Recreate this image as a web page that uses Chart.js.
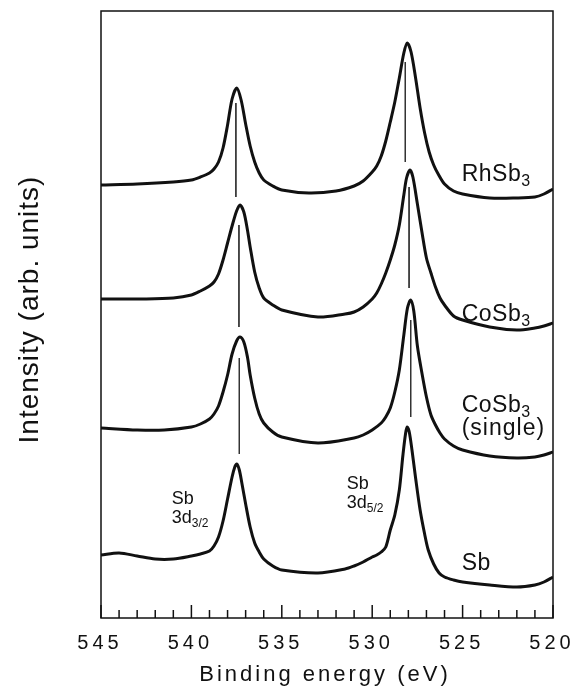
<!DOCTYPE html>
<html>
<head>
<meta charset="utf-8">
<script src="https://cdn.jsdelivr.net/npm/chart.js@4.4.1/dist/chart.umd.min.js"></script>
<style>
  body { margin: 0; background: #fff; }
</style>
</head>
<body>
<canvas id="myChart" width="586" height="697"></canvas>
<script>
// binding energy (eV), intensity (arb. units, curves stacked with offsets)
const rhSb3 = [
  [545, 433], [543, 434], [541, 436], [540, 438],
  [539.5, 441], [539, 445], [538.75, 449], [538.5, 456], [538.25, 470],
  [538, 493], [537.75, 519], [537.49, 530], [537.25, 518], [537, 494],
  [536.75, 472], [536.5, 456], [536.25, 445], [536, 438], [535.5, 432],
  [535, 428], [533.5, 425], [532, 427], [531, 432],
  [530.5, 437], [530, 446], [529.75, 452], [529.5, 462], [529.25, 477],
  [529, 496], [528.75, 516], [528.5, 540], [528.25, 565], [528.06, 575],
  [527.85, 566], [527.6, 540], [527.35, 510], [527.1, 485], [526.85, 466],
  [526.6, 453], [526.35, 444], [526, 434], [525.5, 427], [525, 424],
  [523.5, 420], [522, 420], [521, 421], [520.5, 424], [520, 429],
];
const coSb3 = [
  [545, 319], [542.5, 319], [541, 320], [540, 323],
  [539.5, 327], [539, 332], [538.75, 336], [538.5, 344], [538.25, 358],
  [538, 375], [537.75, 392], [537.5, 407], [537.31, 413], [537.1, 406],
  [536.9, 388], [536.75, 371], [536.5, 346], [536.25, 330], [536, 320],
  [535.5, 313], [535, 308], [533, 301], [531.5, 304],
  [531, 306], [530.5, 311], [530, 319], [529.75, 325], [529.5, 334],
  [529.25, 345], [529, 358], [528.75, 373], [528.5, 393], [528.25, 423],
  [528.1, 440], [527.91, 448], [527.75, 441], [527.5, 414], [527.25, 386],
  [527, 360], [526.75, 345], [526.5, 331], [526.25, 320], [526, 313],
  [525.5, 302], [525, 298], [523.5, 291], [522, 288], [521, 290],
  [520.5, 292], [520, 295],
];
const coSb3Single = [
  [545, 190], [543, 188], [541.5, 188], [540, 191],
  [539.5, 194], [539, 199], [538.75, 204], [538.5, 212], [538.25, 226],
  [538, 243], [537.75, 264], [537.5, 277], [537.31, 281], [537.1, 276],
  [536.9, 261], [536.75, 243], [536.5, 220], [536.25, 204], [536, 195],
  [535.5, 186], [535, 181], [533, 175], [531, 180],
  [530.5, 183], [530, 188], [529.5, 195], [529.25, 201], [529, 210],
  [528.75, 226], [528.5, 248], [528.25, 283], [528.05, 310], [527.87, 318],
  [527.7, 307], [527.5, 272], [527.25, 245], [527, 221], [526.75, 203],
  [526.5, 193], [526.25, 185], [526, 179], [525.5, 172], [525, 168],
  [523.5, 162], [522, 160], [521, 161], [520.5, 163], [520, 166],
];
const sb = [
  [545, 63], [544, 65], [543, 62], [542, 59], [541, 59], [540, 62],
  [539.5, 64], [539, 67],
  [538.75, 72], [538.5, 81], [538.25, 97], [538, 119], [537.75, 141],
  [537.6, 151], [537.49, 154], [537.35, 148], [537.2, 134], [537, 114],
  [536.75, 91], [536.5, 75], [536.25, 66], [536, 59], [535.5, 52], [535, 48],
  [533, 45], [531.5, 49], [531, 52], [530.5, 56],
  [530, 61], [529.75, 63], [529.5, 66], [529.25, 71], [529, 88], [528.75, 103],
  [528.5, 128], [528.3, 163], [528.15, 185], [528.06, 191], [527.95, 186],
  [527.8, 168], [527.6, 140], [527.35, 108], [527.1, 84], [526.9, 68],
  [526.6, 54], [526.3, 45], [526, 41], [525.5, 38], [525, 36], [523.5, 33],
  [522, 31], [521, 33], [520.5, 36], [520, 41],
];

// peak position markers (eV, top, bottom)
const peakMarks = [
  [537.54, 515, 421], [528.17, 556, 456],
  [537.37, 393, 291], [527.96, 431, 330],
  [537.35, 260, 164], [527.87, 298, 201],
];

const energyTicks = [545, 540, 535, 530, 525, 520];

const toXY = (arr) => arr.map(([x, y]) => ({ x, y }));
const FONT = '"Liberation Sans", Arial, Helvetica, sans-serif';

const curve = (label, arr) => ({
  label,
  data: toXY(arr),
  borderColor: "#111",
  borderWidth: 3,
  pointRadius: 0,
  tension: 0.3,
  showLine: true,
});

const datasets = [
  curve("RhSb3", rhSb3),
  curve("CoSb3", coSb3),
  curve("CoSb3 (single)", coSb3Single),
  curve("Sb", sb),
];
peakMarks.forEach(([e, top, bottom]) => {
  datasets.push({
    label: "peak",
    data: [{ x: e, y: top }, { x: e, y: bottom }],
    borderColor: "#333",
    borderWidth: 1,
    pointRadius: 0,
    showLine: true,
  });
});

function textSub(ctx, main, sub, x, y, size, spacing) {
  ctx.font = size + "px " + FONT;
  ctx.letterSpacing = spacing + "px";
  ctx.fillText(main, x, y);
  const w = ctx.measureText(main).width;
  ctx.font = Math.round(size * 0.68) + "px " + FONT;
  ctx.fillText(sub, x + w, y + size * 0.2);
}

const decor = {
  id: "decor",
  afterDraw(chart) {
    const { ctx, chartArea: a, scales } = chart;
    const xs = scales.x, ys = scales.y;
    ctx.save();
    ctx.strokeStyle = "#111";
    ctx.fillStyle = "#111";
    ctx.lineWidth = 1.5;
    ctx.strokeRect(a.left, a.top, a.right - a.left, a.bottom - a.top);

    // inward ticks, minor every 1 eV
    for (let e = 520; e <= 545; e++) {
      const px = xs.getPixelForValue(e);
      const len = e % 5 === 0 ? 13 : 8;
      ctx.beginPath();
      ctx.moveTo(px, a.bottom);
      ctx.lineTo(px, a.bottom - len);
      ctx.stroke();
    }

    ctx.textAlign = "center";
    ctx.textBaseline = "middle";
    ctx.font = "20px " + FONT;
    ctx.letterSpacing = "4px";
    energyTicks.forEach((e) => {
      ctx.fillText(String(e), xs.getPixelForValue(e) - 1, a.bottom + 25);
    });

    ctx.font = "22px " + FONT;
    ctx.letterSpacing = "3px";
    ctx.fillText("Binding energy (eV)", (a.left + a.right) / 2 - 2, a.bottom + 57);

    ctx.save();
    ctx.translate(30, (a.top + a.bottom) / 2 - 5);
    ctx.rotate(-Math.PI / 2);
    ctx.font = "28px " + FONT;
    ctx.letterSpacing = "1px";
    ctx.fillText("Intensity (arb. units)", 0, 0);
    ctx.restore();

    // sample labels
    ctx.textAlign = "left";
    ctx.textBaseline = "alphabetic";
    const lx = xs.getPixelForValue(525.05);
    textSub(ctx, "RhSb", "3", lx, ys.getPixelForValue(437), 23, 0.5);
    textSub(ctx, "CoSb", "3", lx, ys.getPixelForValue(297), 23, 0.5);
    textSub(ctx, "CoSb", "3", lx, ys.getPixelForValue(206), 23, 0.5);
    textSub(ctx, "(single)", "", lx, ys.getPixelForValue(183), 23, 1);
    textSub(ctx, "Sb", "", lx, ys.getPixelForValue(48), 23, 0.5);

    const l1 = xs.getPixelForValue(541.09);
    textSub(ctx, "Sb", "", l1, ys.getPixelForValue(114), 18, 0);
    textSub(ctx, "3d", "3/2", l1, ys.getPixelForValue(95), 18, 0);
    const l2 = xs.getPixelForValue(531.41);
    textSub(ctx, "Sb", "", l2, ys.getPixelForValue(129), 18, 0);
    textSub(ctx, "3d", "5/2", l2, ys.getPixelForValue(110), 18, 0);
    ctx.restore();
  },
};

new Chart(document.getElementById("myChart"), {
  type: "scatter",
  data: { datasets },
  options: {
    responsive: false,
    animation: false,
    layout: { padding: { left: 101, right: 33, top: 11, bottom: 79 } },
    plugins: { legend: { display: false }, tooltip: { enabled: false } },
    scales: {
      x: { type: "linear", min: 520, max: 545, reverse: true, display: false },
      y: { min: 0, max: 607, display: false },
    },
  },
  plugins: [decor],
});
</script>
</body>
</html>
